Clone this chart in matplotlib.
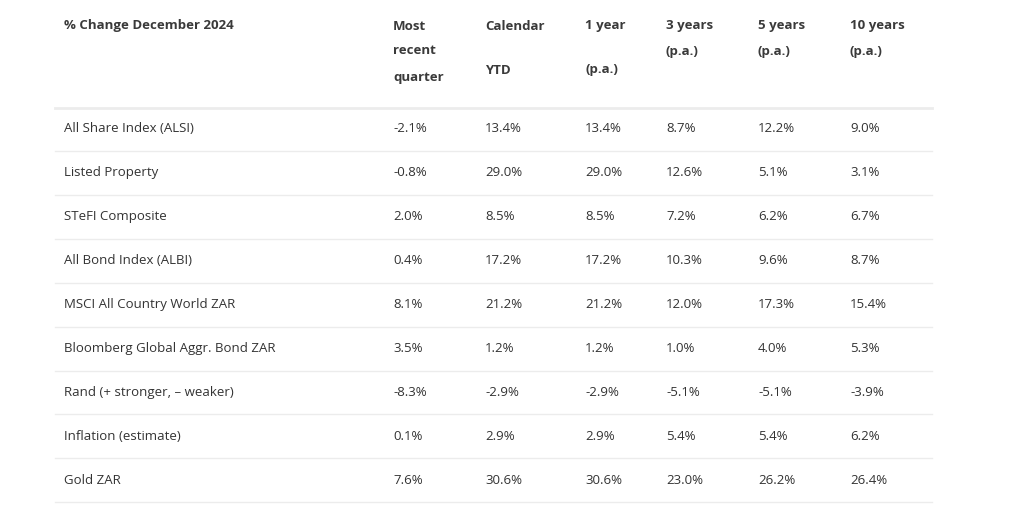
import matplotlib
matplotlib.use("Agg")
import matplotlib.pyplot as plt

rows = ["All Share Index (ALSI)", "Listed Property", "STeFI Composite",
        "All Bond Index (ALBI)", "MSCI All Country World ZAR",
        "Bloomberg Global Aggr. Bond ZAR", "Rand (+ stronger, \u2013 weaker)",
        "Inflation (estimate)", "Gold ZAR"]
quarter = ["-2.1%", "-0.8%", "2.0%", "0.4%", "8.1%", "3.5%", "-8.3%", "0.1%", "7.6%"]
ytd = ["13.4%", "29.0%", "8.5%", "17.2%", "21.2%", "1.2%", "-2.9%", "2.9%", "30.6%"]
y1 = ["13.4%", "29.0%", "8.5%", "17.2%", "21.2%", "1.2%", "-2.9%", "2.9%", "30.6%"]
y3 = ["8.7%", "12.6%", "7.2%", "10.3%", "12.0%", "1.0%", "-5.1%", "5.4%", "23.0%"]
y5 = ["12.2%", "5.1%", "6.2%", "9.6%", "17.3%", "4.0%", "-5.1%", "5.4%", "26.2%"]
y10 = ["9.0%", "3.1%", "6.7%", "8.7%", "15.4%", "5.3%", "-3.9%", "6.2%", "26.4%"]

# header lines per column: list of (text, pixel y)
headers = [
    [("% Change December 2024", 26)],
    [("Most", 26), ("recent", 51), ("quarter", 77)],
    [("Calendar", 26), ("YTD", 70)],
    [("1 year", 26), ("(p.a.)", 70)],
    [("3 years", 26), ("(p.a.)", 51)],
    [("5 years", 26), ("(p.a.)", 51)],
    [("10 years", 26), ("(p.a.)", 51)],
]
cols = [rows, quarter, ytd, y1, y3, y5, y10]
col_x = [64, 393, 485, 585, 666, 758, 850]

W, H = 1024, 524
fig = plt.figure(figsize=(W / 100, H / 100), dpi=100)
ax = fig.add_axes([0, 0, 1, 1])
ax.set_xlim(0, W)
ax.set_ylim(H, 0)
ax.axis("off")

font = "Open Sans"
for x, hdr in zip(col_x, headers):
    for txt, y in hdr:
        ax.text(x, y, txt, fontsize=9.5, fontweight="bold", color="#3a3a3a",
                family=font, va="center", ha="left")

ax.plot([55, 932], [108, 108], color="#ececec", lw=2)
row_h = 43.9
for i in range(len(rows)):
    yc = 129 + i * row_h
    for x, col in zip(col_x, cols):
        ax.text(x, yc, col[i], fontsize=9.5, color="#333333", family=font,
                va="center", ha="left")
    ysep = yc + 22
    ax.plot([55, 932], [ysep, ysep], color="#ececec", lw=1)

fig.savefig("out.png", dpi=100)
